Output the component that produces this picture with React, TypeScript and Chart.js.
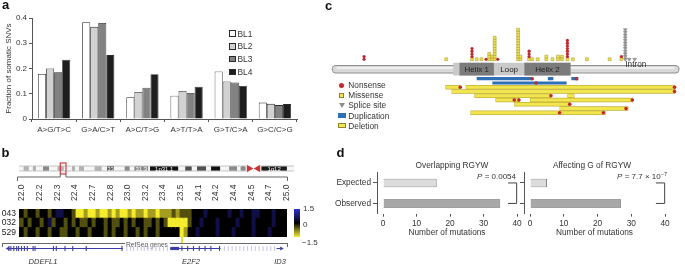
import React, { useEffect, useRef } from 'react';
import { Chart, registerables } from 'chart.js';

Chart.register(...registerables);

const FONT = '"Liberation Sans", Arial, Helvetica, sans-serif';
Chart.defaults.font.family = FONT;
Chart.defaults.color = '#333';

// ---------------- Panel a : fraction of somatic SNVs ----------------
const snvCategories = ['A>G/T>C', 'G>A/C>T', 'A>C/T>G', 'A>T/T>A', 'G>T/C>A', 'G>C/C>G'];
const sampleNames = ['BL1', 'BL2', 'BL3', 'BL4'];
const bl1Fractions = [0.178, 0.383, 0.086, 0.092, 0.188, 0.065];
const bl2Fractions = [0.2, 0.365, 0.107, 0.111, 0.149, 0.06];
const bl3Fractions = [0.185, 0.38, 0.124, 0.103, 0.145, 0.055];
const bl4Fractions = [0.235, 0.253, 0.177, 0.128, 0.131, 0.059];
const fractionTicks = [0, 0.1, 0.2, 0.3, 0.4];
const sampleFills = ['#ffffff', '#d2d2d2', '#828282', '#1e1e1e'];

// ---------------- Panel b : chromosome 1 ideogram, copy-number heatmap, genes ----------------
const bandStarts = [0, 2.3, 5.3, 7.2, 9.2, 12.7, 16.2, 20.4, 23.9, 28.0, 30.0, 31.8, 34.6, 40.1, 44.1, 46.8, 50.7, 56.1, 59.0, 61.3, 68.9, 69.7, 84.9, 88.4, 92.0, 94.7, 99.7, 102.2, 107.2, 111.8, 116.1, 117.8, 128.9, 142.6];
const bandEnds = [2.3, 5.3, 7.2, 9.2, 12.7, 16.2, 20.4, 23.9, 28.0, 30.0, 31.8, 34.6, 40.1, 44.1, 46.8, 50.7, 56.1, 59.0, 61.3, 68.9, 69.7, 84.9, 88.4, 92.0, 94.7, 99.7, 102.2, 107.2, 111.8, 116.1, 117.8, 120.7, 142.6, 146.3];
const bandStains = ['gneg', 'gpos25', 'gneg', 'gpos25', 'gneg', 'gpos50', 'gneg', 'gpos25', 'gneg', 'gpos25', 'gneg', 'gpos25', 'gneg', 'gpos25', 'gneg', 'gpos75', 'gneg', 'gpos50', 'gneg', 'gpos50', 'gneg', 'gpos100', 'gneg', 'gpos75', 'gneg', 'gpos75', 'gneg', 'gpos100', 'gneg', 'gpos50', 'gneg', 'gpos50', 'gvar', 'gneg'];
const bandLabelIndex = [15, 19, 21, 32];
const bandLabelText = ['33', '31.3', '1p31.1', '1q12'];
const centromereTips = [122.4, 127.2];
const centromereRotation = [90, -90];
const highlightRegionMb = [22.0, 25.0];
const stainColor = { gneg: '#f6f6f6', gpos25: '#b2b2b2', gpos50: '#8a8a8a', gpos75: '#505050', gpos100: '#111111', gvar: '#1c1c1c' };

const probeTickLabels = ['22.0', '22.2', '22.3', '22.4', '22.7', '22.8', '23.0', '23.2', '23.4', '23.5', '24.1', '24.2', '24.4', '24.5', '24.7', '25.0'];
const heatmapSamples = ['043', '032', '529'];
// log-ratio levels in steps of 0.5 (negative = yellow / loss, positive = blue / gain)
const row043 = [0, -1, 0, 0, -1, 0, 0, -1, 0, 1, 1, 0, 0, -1,
  -3, -3, -2, -3, -3, -2, -3, -3, -2, -3, -2, -3, -3, -2, -3, -2, -2, -3, -2, -2, -3, -2, -2,
  -2, -1, -2, -1, -1, -1,
  0, 0, 0, 1, 0, 0, 0, 0, 0, 1, 0, 0, 1, 0, 0, 1, 1, 0, 0, 0, 1, 0, 0, 0];
const row032 = [-1, 0, -1, 0, 0, -1, 0, 1, -1, 0, 0, -1, 0, -1, 0, -1, -1, 0, -1, 0, 0, -1, 0, -1, -1, 0, -1, 0, -1, 0, 0, -1, -1, 0, -1, 0, -1,
  -3, -3, -3, -3, -3,
  -1, 0, 0, 1, 0, 0, 0, 1, 0, 0, 0, 0, 1, 0, 0, 0, 1, 0, 0, 0, 0, 1, 0, 0, 0];
const row529 = [0, -1, 0, 0, -1, 0, 0, -1, 0, 0, -1, -1, 0, 0, -1, 0, 0, -1, 0, 0, 0, -1, 0, -1, 0, 0, -1, 0, 0, -1, 0, -1, 0, 0, -1, 0, 0, 0, 0, 0,
  -3, -2,
  0, 0, 1, 0, 0, 0, 0, 1, 0, 0, 0, 1, 0, 0, 0, 0, 1, 0, 0, 0, 1, 0, 0, 0, 0];
const colorbarLabels = ['1.5', '0', '\u22121.5'];

const ddefl1Body = [2, 122];
const ddefl1Exons = [4, 6, 9, 12, 14, 17, 20, 23, 29, 31, 50, 53, 62, 70, 84, 121];
const fadedExonsA = [126, 130, 133, 137, 141, 144, 148, 152, 156, 160, 164, 168];
const e2f2Body = [171, 223];
const e2f2Utr = [171, 180];
const e2f2Exons = [183, 189, 195, 201, 207, 213, 222];
const fadedExonsB = [227, 231, 235, 239, 243, 247, 251, 255, 259, 263, 267, 271, 275, 279];
const id3Body = [281, 285];
const geneArrowPos = [3, 286];
const geneArrowRotation = [-90, 90];

// ---------------- Panel c : E2F2 protein mutations ----------------
const proteinSpan = [2, 436];
const domainRegion = [152, 302];
const helixStarts = [160, 243];
const helixEnds = [204, 302];
const helixNames = ['Helix 1', 'Helix 2'];
const loopRegion = [204, 243];
const intronStart = 372;
const stackPositions = [38, 143, 176, 182, 188, 194, 198, 202, 205, 209, 235, 238, 249, 253, 260, 271, 279, 286, 291, 298, 305, 323, 352, 367, 372, 377, 384];
// N = nonsense, M = missense, S = splice site (bottom to top)
const stackCalls = ['NN', 'M', 'MNNNN', 'M', 'M', 'N', 'MMM', 'MM', 'MMMMMMMMM', 'N', 'MMMMMMMMMMMM', 'MM', 'MNNN', 'M', 'M', 'MM', 'M', 'MM', 'MM', 'MNNNNNNN', 'M', 'M', 'M', 'MN', 'SSSSSSSSSSSS', 'S', 'S'];
const dupRows = [0, 0, 0, 1];
const dupStarts = [182, 273, 303, 202];
const dupEnds = [253, 280, 312, 297];
const delRows = [2, 2, 3, 4, 4, 5, 5, 6, 7, 8];
const delStarts = [142, 168, 150, 179, 298, 206, 250, 230, 288, 174];
const delEnds = [161, 436, 436, 277, 307, 237, 382, 302, 376, 347];
const barNonsenseRows = [0, 0, 1, 2, 2, 3, 4, 5, 5, 5, 6, 7, 8, 8];
const barNonsensePos = [253, 309.5, 258, 161, 435, 435, 277, 230, 236, 381, 301, 373, 288, 344];
const mutationLegend = ['Nonsense', 'Missense', 'Splice site', 'Duplication', 'Deletion'];

// ---------------- Panel d : RGYW motifs ----------------
const rgywCategories = ['Expected', 'Observed'];
const overlappingCounts = [16, 35];
const affectingGCounts = [5, 27];
const mutationTicks = [0, 10, 20, 30, 40];

const base = {
  responsive: false,
  animation: false,
  devicePixelRatio: 1,
  events: [],
};
const noPlugins = { legend: { display: false }, tooltip: { enabled: false }, title: { display: false } };

function heatColor(level) {
  const v = level * 0.5;
  const t = Math.min(1, Math.abs(v) / 1.5);
  if (v < 0) return `rgb(${Math.round(246 * t)},${Math.round(236 * t)},${Math.round(46 * t)})`;
  return `rgb(${Math.round(46 * t)},${Math.round(46 * t)},${Math.round(208 * t)})`;
}

function buildSnvChart() {
  const series = [bl1Fractions, bl2Fractions, bl3Fractions, bl4Fractions];
  return {
    type: 'bar',
    data: {
      labels: snvCategories,
      datasets: series.map((d, i) => ({
        label: sampleNames[i], data: d, backgroundColor: sampleFills[i], borderColor: '#2a2a2a',
        borderWidth: 0.8, categoryPercentage: 0.73, barPercentage: 1,
      })),
    },
    options: {
      ...base,
      plugins: noPlugins,
      layout: { padding: { top: 10, right: 3, left: 0, bottom: 0 } },
      scales: {
        x: {
          grid: { drawOnChartArea: false, offset: true, tickLength: 3, color: '#555' },
          border: { color: '#555' },
          ticks: { font: { size: 8 }, color: '#333', padding: 3, maxRotation: 0, autoSkip: false },
          afterFit: (s) => { s.height = 18; },
        },
        y: {
          min: 0, max: 0.4,
          afterBuildTicks: (s) => { s.ticks = fractionTicks.map((v) => ({ value: v })); },
          ticks: { font: { size: 8 }, color: '#333', padding: 2 },
          grid: { drawOnChartArea: false, tickLength: 3, color: '#555' },
          border: { color: '#555' },
          title: { display: true, text: 'Fraction of somatic SNVs', font: { size: 8 }, color: '#333', padding: { top: 4, bottom: 0 } },
          afterFit: (s) => { s.width = 32; },
        },
      },
    },
  };
}

const ideogramPlugin = {
  id: 'ideoDeco',
  afterDatasetsDraw(chart) {
    const { ctx, chartArea } = chart;
    const x = chart.scales.x;
    const cy = (chartArea.top + chartArea.bottom) / 2;
    ctx.save();
    ctx.fillStyle = '#ffffff';
    ctx.font = `6px ${FONT}`;
    ctx.textAlign = 'center';
    ctx.textBaseline = 'middle';
    bandLabelIndex.forEach((b, i) => {
      ctx.fillText(bandLabelText[i], x.getPixelForValue((bandStarts[b] + bandEnds[b]) / 2), cy + 0.5);
    });
    const x0 = x.getPixelForValue(highlightRegionMb[0]);
    const x1 = x.getPixelForValue(highlightRegionMb[1]);
    ctx.strokeStyle = '#d33a3a';
    ctx.lineWidth = 1.2;
    ctx.strokeRect(x0, cy - 5.5, x1 - x0, 11);
    ctx.strokeStyle = '#666';
    ctx.lineWidth = 1;
    const yb = cy + 8.5;
    ctx.beginPath();
    ctx.moveTo(x0, cy + 5.5); ctx.lineTo(x0, yb); ctx.lineTo(17.5, yb); ctx.lineTo(17.5, yb + 4);
    ctx.moveTo(x1, cy + 5.5); ctx.lineTo(x1, yb); ctx.lineTo(287.5, yb); ctx.lineTo(287.5, yb + 4);
    ctx.stroke();
    ctx.restore();
  },
};

function buildIdeogram() {
  return {
    type: 'bar',
    data: {
      labels: ['chr1'],
      datasets: [
        {
          type: 'scatter', data: centromereTips.map((v) => ({ x: v, y: 'chr1' })), pointStyle: 'triangle',
          rotation: centromereRotation, pointRadius: 4.4, backgroundColor: '#cf3434', borderWidth: 0, order: 0,
        },
        {
          data: bandStarts.map((s, i) => ({ x: [s, bandEnds[i]], y: 'chr1' })),
          backgroundColor: bandStains.map((k) => stainColor[k]),
          borderColor: '#8a8a8a', borderWidth: { top: 0.8, bottom: 0.8, left: 0, right: 0 }, borderSkipped: false,
          barPercentage: 0.32, categoryPercentage: 1, order: 1,
        },
      ],
    },
    options: {
      ...base, plugins: noPlugins, indexAxis: 'y', layout: { padding: 0 },
      scales: { x: { type: 'linear', min: -7.75, max: 147.2, display: false }, y: { display: false } },
    },
    plugins: [ideogramPlugin],
  };
}

function buildHeatmap() {
  const rows = [row043, row032, row529];
  const nCols = row043.length;
  const datasets = row043.map((_, c) => ({
    data: rows.map(() => 1),
    backgroundColor: rows.map((r) => heatColor(r[c])),
    borderWidth: 0, barPercentage: 1, categoryPercentage: 1, inflateAmount: 0.6,
  }));
  return {
    type: 'bar',
    data: { labels: heatmapSamples, datasets },
    options: {
      ...base, plugins: noPlugins, indexAxis: 'y',
      layout: { padding: { top: 0, right: 5, left: 0, bottom: 0 } },
      scales: {
        x: { stacked: true, display: false, min: 0, max: nCols },
        y: {
          stacked: true, grid: { display: false, drawTicks: false }, border: { display: false },
          ticks: { font: { size: 8.5 }, color: '#222', padding: 3, autoSkip: false },
          afterFit: (s) => { s.width = 19; s.paddingTop = 0; s.paddingBottom = 0; },
        },
        xl: {
          type: 'linear', position: 'top', min: -0.1, max: probeTickLabels.length - 0.9,
          grid: { display: false, drawTicks: false }, border: { display: false },
          afterBuildTicks: (s) => { s.ticks = probeTickLabels.map((_, i) => ({ value: i })); },
          ticks: {
            autoSkip: false, minRotation: 90, maxRotation: 90, font: { size: 8.5 }, color: '#333', padding: 8,
            labelOffset: 11.5,
            callback: (v) => probeTickLabels[v],
          },
          afterFit: (s) => { s.height = 29; s.paddingLeft = 0; s.paddingRight = 0; },
        },
      },
    },
  };
}

function buildGeneTrack() {
  const blue = '#3c3ca8';
  const faded = '#c9c9ea';
  const seg = (r, color, w) => ({ type: 'scatter', showLine: true, data: [{ x: r[0], y: 0 }, { x: r[1], y: 0 }], borderColor: color, borderWidth: w, pointRadius: 0 });
  const ticks = (xs, color) => ({ type: 'scatter', data: xs.map((v) => ({ x: v, y: 0 })), pointStyle: 'line', rotation: 90, pointRadius: 2.6, borderColor: color, pointBorderWidth: 1.1 });
  return {
    type: 'scatter',
    data: {
      datasets: [
        seg(ddefl1Body, blue, 1), seg(e2f2Body, blue, 1), seg(e2f2Utr, blue, 3.2), seg(id3Body, blue, 1),
        ticks(ddefl1Exons, blue), ticks(e2f2Exons, blue), ticks(fadedExonsA, faded), ticks(fadedExonsB, faded),
        { type: 'scatter', data: geneArrowPos.map((v) => ({ x: v, y: 0 })), pointStyle: 'triangle', rotation: geneArrowRotation, pointRadius: 2.4, backgroundColor: blue, borderWidth: 0 },
      ],
    },
    options: {
      ...base, plugins: noPlugins, layout: { padding: 0 },
      scales: { x: { type: 'linear', min: 0, max: 300, display: false }, y: { min: -1, max: 1, display: false } },
    },
  };
}

const proteinRow = -2.24;
const intronLabelRow = -3.49;

const proteinLabelPlugin = {
  id: 'proteinLabels',
  afterDatasetsDraw(chart) {
    const { ctx } = chart;
    const x = chart.scales.x;
    const yR = chart.scales.yR;
    const y = yR.getPixelForValue(proteinRow);
    ctx.save();
    ctx.font = `8px ${FONT}`;
    ctx.fillStyle = '#222';
    ctx.textAlign = 'center';
    ctx.textBaseline = 'middle';
    helixNames.forEach((n, i) => ctx.fillText(n, x.getPixelForValue((helixStarts[i] + helixEnds[i]) / 2), y + 0.5));
    ctx.fillText('Loop', x.getPixelForValue((loopRegion[0] + loopRegion[1]) / 2), y + 0.5);
    ctx.textAlign = 'left';
    ctx.fillStyle = '#333';
    ctx.font = `8.3px ${FONT}`;
    ctx.fillText('Intron', x.getPixelForValue(intronStart), yR.getPixelForValue(intronLabelRow) + 0.5);
    ctx.restore();
  },
};

function buildProteinChart() {
  const seg = (x0, x1, y, color, w, order, cap = 'butt') => ({
    type: 'scatter', showLine: true, data: [{ x: x0, y }, { x: x1, y }], borderColor: color, borderWidth: w,
    borderCapStyle: cap, pointRadius: 0, yAxisID: 'yR', order,
  });
  const ds = [];
  ds.push(seg(proteinSpan[0], proteinSpan[1], proteinRow, '#8e8e8e', 8.4, 40, 'round'));
  ds.push(seg(proteinSpan[0], proteinSpan[1], proteinRow, '#d9d9d9', 6.4, 39, 'round'));
  ds.push(seg(proteinSpan[0] + 2, proteinSpan[1] - 2, proteinRow - 0.3, '#efefef', 2, 38, 'round'));
  ds.push(seg(domainRegion[0], domainRegion[1], proteinRow, '#c9c9c9', 12.7, 37));
  helixStarts.forEach((s, i) => ds.push(seg(s, helixEnds[i], proteinRow, '#7b7b7b', 12.7, 36)));
  dupStarts.forEach((s, i) => ds.push(seg(s, dupEnds[i], dupRows[i], '#2f6fb3', 3.2, 20)));
  delStarts.forEach((s, i) => {
    ds.push(seg(s, delEnds[i], delRows[i], '#c2b13a', 4.4, 22));
    ds.push(seg(s + 0.6, delEnds[i] - 0.6, delRows[i], '#f2e64e', 3.0, 21));
  });
  ds.push({
    type: 'scatter', data: barNonsensePos.map((p, i) => ({ x: p, y: barNonsenseRows[i] })), yAxisID: 'yR',
    pointStyle: 'circle', pointRadius: 1.8, backgroundColor: '#c0282d', borderWidth: 0, order: 5,
  });
  const pts = { M: [], N: [], S: [] };
  stackCalls.forEach((calls, c) => {
    calls.split('').forEach((k, i) => pts[k].push({ x: stackPositions[c], y: i }));
  });
  ds.push({ type: 'scatter', data: pts.M, yAxisID: 'yS', pointStyle: 'rect', pointRadius: 2, backgroundColor: '#f3e54e', borderColor: '#ad9d33', borderWidth: 0.6, order: 4 });
  ds.push({ type: 'scatter', data: pts.N, yAxisID: 'yS', pointStyle: 'circle', pointRadius: 1.6, backgroundColor: '#c0282d', borderWidth: 0, order: 3 });
  ds.push({ type: 'scatter', data: pts.S, yAxisID: 'yS', pointStyle: 'triangle', rotation: 180, pointRadius: 2.1, backgroundColor: '#a0a0a0', borderColor: '#777', borderWidth: 0.5, order: 3 });
  return {
    type: 'scatter',
    data: { datasets: ds },
    options: {
      ...base, plugins: noPlugins, layout: { padding: 0 },
      scales: {
        x: { type: 'linear', min: -12.5, max: 442.5, display: false },
        yS: { type: 'linear', min: -22.76, max: 20.34, display: false },
        yR: { type: 'linear', min: -17.43, max: 9.8, reverse: true, display: false },
      },
    },
    plugins: [proteinLabelPlugin],
  };
}

const bracketPlugin = {
  id: 'pBracket',
  afterDatasetsDraw(chart) {
    const { ctx } = chart;
    const x = chart.scales.x;
    const y = chart.scales.y;
    const xr = x.getPixelForValue(39.9);
    const xl = x.getPixelForValue(37.3);
    const y0 = y.getPixelForValue(0);
    const y1 = y.getPixelForValue(1);
    ctx.save();
    ctx.strokeStyle = '#444';
    ctx.lineWidth = 1;
    ctx.beginPath();
    ctx.moveTo(xl, y0); ctx.lineTo(xr, y0); ctx.lineTo(xr, y1); ctx.lineTo(xl, y1);
    ctx.stroke();
    ctx.restore();
  },
};

function buildRgywChart(counts, showLabels, yWidth, padRight) {
  return {
    type: 'bar',
    data: {
      labels: rgywCategories,
      datasets: [{ data: counts, backgroundColor: ['#dcdcdc', '#a8a8a8'], borderColor: '#555', borderWidth: 0.8, barPercentage: 0.42, categoryPercentage: 1 }],
    },
    options: {
      ...base, plugins: noPlugins, indexAxis: 'y',
      layout: { padding: { top: 6.7, right: padRight, left: 0, bottom: 0 } },
      scales: {
        x: {
          min: -1.8, max: 40,
          afterBuildTicks: (s) => { s.ticks = mutationTicks.map((v) => ({ value: v })); },
          border: { display: false },
          grid: { drawOnChartArea: false, tickLength: 3, color: '#555' },
          ticks: { font: { size: 8.3 }, color: '#333', padding: 2 },
          title: { display: true, text: 'Number of mutations', font: { size: 8.3 }, color: '#333', padding: { top: 0, bottom: 2 } },
          afterFit: (s) => { s.height = 26.3; },
        },
        y: {
          border: { color: '#555' },
          grid: { drawOnChartArea: false, offset: false, tickLength: 4, color: '#555' },
          ticks: { display: showLabels, font: { size: 8.3 }, color: '#333', padding: 2, autoSkip: false },
          afterFit: (s) => { s.width = yWidth; s.paddingTop = 0; s.paddingBottom = 0; },
        },
      },
    },
    plugins: [bracketPlugin],
  };
}

function ChartCanvas({ left, top, width, height, build }) {
  const ref = useRef(null);
  useEffect(() => {
    if (!ref.current) return undefined;
    const chart = new Chart(ref.current, build());
    return () => chart.destroy();
  }, []);
  return <canvas ref={ref} width={width} height={height} style={{ position: 'absolute', left, top, width, height }} />;
}

function Txt({ x, y, a = 'l', s = 8.3, children, st = {} }) {
  const tx = a === 'l' ? '0' : a === 'c' ? '-50%' : '-100%';
  return (
    <div style={{ position: 'absolute', left: x, top: y, transform: `translate(${tx},-50%)`, fontSize: s, lineHeight: 1, whiteSpace: 'nowrap', color: '#333', ...st }}>
      {children}
    </div>
  );
}

function Box({ x, y, w, h, st }) {
  return <div style={{ position: 'absolute', left: x, top: y, width: w, height: h, boxSizing: 'border-box', ...st }} />;
}

export default function App() {
  const legendY = [33.5, 46.3, 59.1, 71.9];
  const cLegendY = [85, 95.2, 105.4, 115.6, 125.8];
  return (
    <div style={{ position: 'absolute', left: 0, top: 0, width: 685, height: 265, overflow: 'hidden', background: '#fff', fontFamily: FONT }}>
      {/* panel a */}
      <ChartCanvas left={0} top={8} width={300} height={129} build={buildSnvChart} />
      {sampleNames.map((n, i) => (
        <React.Fragment key={n}>
          <Box x={229} y={legendY[i] - 3.3} w={6.5} h={6.5} st={{ background: sampleFills[i], border: '0.8px solid #2a2a2a' }} />
          <Txt x={237.5} y={legendY[i]} s={8.4}>{n}</Txt>
        </React.Fragment>
      ))}

      {/* panel b */}
      <ChartCanvas left={0} top={155} width={300} height={27} build={buildIdeogram} />
      <ChartCanvas left={0} top={180} width={292} height={57} build={buildHeatmap} />
      <Box x={294} y={209} w={6} h={28} st={{ background: 'linear-gradient(to bottom, #2e2ed0 0%, #15155a 30%, #000 50%, #6b6714 70%, #f6ec2e 100%)' }} />
      <Txt x={303} y={209} s={8}>{colorbarLabels[0]}</Txt>
      <Txt x={303} y={225} s={8}>{colorbarLabels[1]}</Txt>
      <Txt x={302} y={243} s={8}>{colorbarLabels[2]}</Txt>
      <Box x={180.5} y={236} w={2.5} h={7} st={{ background: '#e8e030' }} />
      <Box x={2} y={243} w={123} h={4} st={{ borderTop: '1px solid #666', borderLeft: '1px solid #666' }} />
      <Box x={170} y={243} w={118} h={4} st={{ borderTop: '1px solid #666', borderRight: '1px solid #666' }} />
      <Txt x={147} y={245} a="c" s={6.6} st={{ color: '#555' }}>RefSeq genes</Txt>
      <ChartCanvas left={0} top={241} width={300} height={15} build={buildGeneTrack} />
      <Txt x={43} y={261.5} a="c" s={7.5} st={{ fontStyle: 'italic' }}>DDEFL1</Txt>
      <Txt x={191} y={262} a="c" s={7.5} st={{ fontStyle: 'italic' }}>E2F2</Txt>
      <Txt x={280} y={262} a="c" s={7.5} st={{ fontStyle: 'italic' }}>ID3</Txt>

      {/* panel c */}
      <ChartCanvas left={320} top={0} width={365} height={125} build={buildProteinChart} />
      <Box x={339.2} y={cLegendY[0] - 2.5} w={5} h={5} st={{ background: '#c0282d', borderRadius: '50%' }} />
      <Box x={339.2} y={cLegendY[1] - 2.5} w={5} h={5} st={{ background: '#f3e54e', border: '0.8px solid #8f8230' }} />
      <div style={{ position: 'absolute', left: 338.7, top: cLegendY[2] - 2.5, width: 0, height: 0, borderLeft: '3px solid transparent', borderRight: '3px solid transparent', borderTop: '5px solid #8c8c8c' }} />
      <Box x={337.5} y={cLegendY[3] - 2.5} w={8.5} h={5} st={{ background: '#2f6fb3' }} />
      <Box x={337.5} y={cLegendY[4] - 2.5} w={8.5} h={5} st={{ background: '#f2e64e', border: '0.8px solid #8f8230' }} />
      {mutationLegend.map((n, i) => <Txt key={n} x={348.3} y={cLegendY[i]}>{n}</Txt>)}

      {/* panel d */}
      <ChartCanvas left={325} top={166} width={200} height={74} build={() => buildRgywChart(overlappingCounts, true, 52, 8)} />
      <ChartCanvas left={519} top={166} width={166} height={74} build={() => buildRgywChart(affectingGCounts, false, 5, 20)} />
      <Txt x={452} y={165} a="c">Overlapping RGYW</Txt>
      <Txt x={592} y={165} a="c">Affecting G of RGYW</Txt>
      <Txt x={516} y={177} a="r" s={8}><i>P</i> = 0.0054</Txt>
      <Txt x={667} y={177} a="r" s={8}><i>P</i> = 7.7 × 10<span style={{ fontSize: 5.5, position: 'relative', top: -3 }}>−7</span></Txt>

      {/* panel letters */}
      <Txt x={2} y={3.8} s={13} st={{ fontWeight: 'bold', color: '#111' }}>a</Txt>
      <Txt x={1.5} y={151.5} s={13} st={{ fontWeight: 'bold', color: '#111' }}>b</Txt>
      <Txt x={325} y={4.8} s={13} st={{ fontWeight: 'bold', color: '#111' }}>c</Txt>
      <Txt x={336.5} y={152.2} s={13} st={{ fontWeight: 'bold', color: '#111' }}>d</Txt>
    </div>
  );
}
